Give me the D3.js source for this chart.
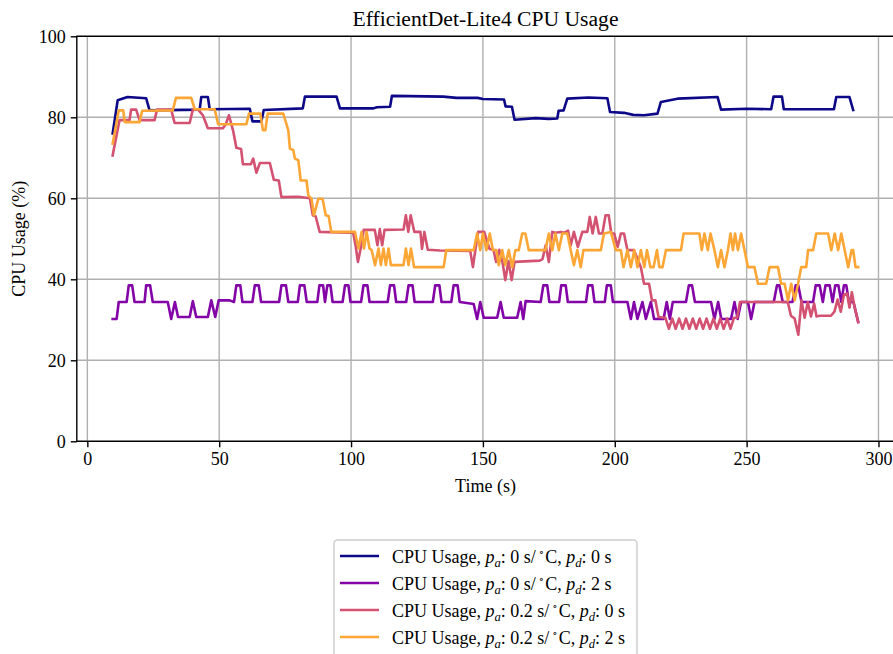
<!DOCTYPE html>
<html>
<head>
<meta charset="utf-8">
<script src="https://cdn.jsdelivr.net/npm/d3@7"></script>
<style>
  body { margin: 0; background: #fff; }
  svg { display: block; }
</style>
</head>
<body>
<svg id="chart" width="893" height="654"></svg>
<script>
// ---- data: [time (s), CPU usage (%)] ----
const usagePa0Pd0 = [[9.6,76],[11.5,84.2],[15.2,85],[22.3,84.7],[23.6,81.7],[42.6,81.9],[43.2,85],[45.7,85],[46.4,82],[61.6,82.1],[62.6,79],[66,79],[66.9,81.8],[81.7,82.2],[82.5,85.1],[94.5,85.1],[95.8,82.2],[108.5,82.2],[109.8,82.5],[114.8,82.6],[115.5,85.3],[135,85.1],[140,84.8],[148,84.8],[150,84.5],[158,84.4],[158.6,82.7],[161,82.6],[162,79.4],[170,79.8],[175,79.6],[178.2,79.7],[178.7,81.6],[180.6,81.7],[182,84.6],[190,84.9],[197.2,84.7],[198.2,81.3],[203.5,81.1],[207,80.6],[211.1,80.5],[216.2,80.9],[217.5,83.8],[223.8,84.6],[239,85],[240.3,81.9],[250,82.1],[259.3,82],[260.2,85.1],[263.4,85.1],[264.1,82],[283.1,82],[284,85],[289,85],[290.4,81.8]];

const usagePa0Pd2 = [[9.6,30.2],[11.1,30.2],[11.9,34.4],[14.9,34.4],[15.7,38.5],[17,38.5],[17.9,34.4],[21.7,34.4],[22.3,38.5],[23.8,38.5],[24.8,34.4],[30.5,34.4],[31.8,30.2],[33.2,34.4],[34.4,30.7],[38.8,30.7],[40,34.6],[41.3,30.7],[45.7,30.7],[47,34.8],[48.5,30.7],[49.8,34.8],[54,34.8],[55.6,34.4],[56.5,38.5],[58,38.5],[58.8,34.4],[62.6,34.4],[63.5,38.5],[65,38.5],[65.9,34.4],[72.7,34.4],[73.6,38.5],[75.3,38.5],[76.2,34.4],[79.8,34.4],[80.6,38.5],[82.3,38.5],[83.2,34.4],[87.2,34.4],[88,38.5],[89.4,38.5],[90.1,34.4],[91,38.5],[92.2,38.5],[93,34.4],[96.8,34.4],[97.7,38.5],[99,38.5],[99.8,34.4],[103.8,34.4],[104.7,38.5],[106.2,38.5],[107,34.4],[113.9,34.4],[114.8,38.5],[116.3,38.5],[117.1,34.4],[120.9,34.4],[121.8,38.5],[123.3,38.5],[124.1,34.4],[131,34.4],[131.9,38.5],[133.5,38.5],[134.3,34.4],[138,34.4],[138.9,38.5],[140.4,38.5],[141.2,34.4],[146.5,33.9],[147.8,30.2],[149,34.4],[150.3,30.5],[155.4,30.5],[156.7,34.4],[157.9,30.5],[163,30.5],[164.3,34.4],[165.3,30.2],[166.2,34.6],[171.9,34.4],[172.9,38.5],[174.4,38.5],[175.2,34.4],[178.9,34.4],[179.7,38.5],[181.4,38.5],[182.2,34.4],[189.1,34.4],[189.9,38.5],[191.5,38.5],[192.3,34.4],[196.2,34.4],[197,38.5],[198.5,38.5],[199.3,34.4],[204.8,34.4],[206.1,30.2],[207.3,34.4],[208.6,30.2],[210.5,34.4],[211.8,30.2],[213.7,34.4],[214.9,30.2],[218.5,30.2],[219.7,34.4],[220.9,30.2],[222,34.4],[227,34.4],[228.1,38.5],[229.3,38.5],[230.4,34.4],[236.5,34.4],[237.8,30.2],[239.2,34.4],[240.4,30.2],[244.1,30.2],[245.4,34.4],[246.6,30.2],[247.9,34.4],[250.5,34.4],[251.7,30.2],[253,34.4],[260.3,34.4],[261.5,38.5],[262.4,38.5],[263.7,34.4],[267.4,34.4],[268.6,38.5],[269.6,38.5],[270.8,34.4],[275.2,34.4],[276.2,38.5],[277.7,38.5],[278.9,34.4],[279.9,38.5],[281.5,38.5],[282.6,34.4],[283.6,38.5],[284.8,38.5],[285.9,34.4],[286.9,38.5],[287.8,38.5],[288.8,34.4],[290.5,34.4],[292.3,29.5]];

const usagePa02Pd0 = [[9.6,70.6],[12.2,79.3],[16,79.3],[16.6,81.9],[18.5,81.9],[19.8,79.3],[25.5,79.3],[26.4,81.9],[31.8,81.9],[33.1,78.6],[38.8,78.6],[40,81.9],[42,81.9],[43.8,80.5],[45.7,77.3],[51.4,77.3],[52.5,78.3],[53.7,80.5],[55.3,76.6],[56.5,72.5],[58.3,72.2],[59,68.4],[62,68.4],[62.9,69.8],[64.1,66.3],[65.4,68.7],[69.2,68.7],[70.7,64.6],[72.6,64.4],[73.6,60.3],[80,60.4],[84.4,60],[85.5,55.8],[86.6,55.5],[88.1,51.7],[99.6,51.5],[100.8,51.5],[101.7,48.4],[102.6,44.3],[103.9,48.4],[104.8,52.2],[109,52.2],[110,48.4],[110.9,52.4],[111.8,48.4],[112.7,52.2],[119.9,52.3],[120.8,55.8],[121.7,51.7],[122.6,55.8],[124,51.7],[126.3,51.7],[126.9,47.5],[127.8,51.7],[129.1,47.3],[133.8,47.1],[145.2,47],[146.2,43],[147.2,47.5],[148.2,51.7],[150.5,51.7],[152.5,47.5],[154,47.3],[155,44.3],[156.2,47.3],[157.4,44.3],[158.5,39.8],[159.7,44.5],[160.9,39.8],[162,44.3],[171.5,44.6],[172.6,45],[173.8,48.4],[175,44.3],[176.3,51.7],[177.5,51.5],[179.5,51.7],[181,51.5],[182.3,52],[183.3,48.4],[184.5,51.7],[186,48],[187.7,51.7],[189.6,51.7],[190.5,55.4],[191.6,51.3],[192.8,55.4],[194,51.3],[195.3,51.3],[196.5,55.8],[197.7,55.8],[198.7,51.3],[199.8,51.3],[201.1,48],[202.3,51.3],[203.5,51.3],[204.8,47.2],[207.3,47.2],[209.9,43],[211.1,38.9],[213,38.9],[214.1,34.8],[215.4,34.8],[216.6,30.7],[219.2,30.5],[220.5,27.8],[221.8,30.3],[223.1,27.8],[224.4,30.3],[225.7,27.8],[227,30.3],[228.3,27.8],[229.6,30.3],[230.9,27.8],[232.2,30.3],[233.5,27.8],[234.8,30.3],[236.1,27.8],[237.4,30.3],[238.7,27.8],[240,30.3],[241.3,27.8],[242.6,30.3],[243.9,27.8],[245.2,30.5],[246.4,30.5],[247.5,34.4],[265.6,34.4],[266.8,31],[268.2,30.3],[269.6,26.3],[270.8,34.8],[272,30.5],[273.2,34.4],[274.4,30.8],[275.6,34],[276.5,30.8],[277.7,31],[282,31],[283.3,32],[284.5,35],[285.7,32],[286.9,36.2],[288.1,36.5],[289,33],[289.9,36.8],[291,33],[292.3,29.4]];

const usagePa02Pd2 = [[9.6,73.5],[11.9,81.7],[13.6,81.7],[14.2,78.8],[19.8,78.8],[20.8,81.6],[32.4,81.7],[33.6,84.8],[39.4,84.8],[40.7,82],[48.3,82],[49.6,78.3],[60.3,78.3],[61.3,80.9],[65.6,80.9],[66.6,76.8],[67.5,76.8],[68.4,80.9],[74.3,80.9],[76.2,76.8],[76.8,72.3],[78.1,71.9],[78.7,69.8],[80,69.4],[80.9,64.4],[83.1,64.4],[83.8,60.7],[85,59.9],[85.9,55.8],[87.6,59.9],[89.2,59.9],[90.4,55.8],[91.5,55.6],[92.5,51.7],[101.5,51.7],[102.8,47.6],[104,51.7],[104.9,47.6],[105.9,51.7],[107,47.6],[107.8,47.2],[109.1,43.5],[110.4,47.6],[111.3,43.5],[112.3,47.6],[113.2,43.5],[114.2,47.6],[115.1,43.5],[116.1,43.5],[119.9,43.5],[120.8,47.6],[121.8,43.5],[122.7,47.6],[123.9,43],[135.1,43],[136.1,47.2],[146.5,47.2],[147.8,51.3],[149,47.2],[150,51.3],[151.3,47.2],[152.6,51.3],[153.8,47.2],[155.1,47.2],[156,43.5],[157.3,47.2],[158.5,43.5],[159.8,47.2],[161.1,43],[162.3,47.2],[163.6,47.2],[164.9,51.3],[166.1,51.3],[167.4,47.2],[173.7,47.2],[175,51.3],[176.3,47.2],[177.5,51.3],[178.8,47.2],[180.1,51.3],[182,51.3],[183.3,47.2],[184.5,43.5],[185.8,47.2],[187.1,43],[188.1,47.2],[194.7,47.2],[195.9,51.3],[198.5,51.7],[200.4,47.2],[202.3,47.2],[203.3,43],[204.8,47.2],[206.1,43],[207.4,47.2],[208.6,43],[209.9,47.2],[211.2,43],[212.2,47.2],[213.5,43],[214.7,43],[216,47.2],[216.9,43],[218.1,43],[219.4,47.2],[225.1,47.2],[226.1,51.3],[232.1,51.3],[233,47.2],[234,51.3],[235.3,47.2],[236.3,51.3],[237.8,47.2],[239.1,43],[240.3,47.2],[241.6,43],[242.9,47.2],[243.9,51.3],[244.8,47.2],[245.6,51.3],[246.7,47.2],[247.9,51.3],[249.2,47.2],[250.5,43],[253,43],[254.3,38.9],[257.4,38.9],[258.7,43],[261.9,43],[263.1,38.9],[264.4,38.9],[265.7,34.8],[266.9,38.9],[268.2,34.8],[269.5,38.9],[270.7,43],[272.6,43],[273.3,47.2],[275.2,47.2],[276.4,51.3],[280.9,51.3],[282.1,47.2],[283.4,51.3],[284.7,47.2],[285.9,51.3],[287.2,47.2],[288.5,43],[289.8,47.2],[290.4,47.2],[291.3,43],[292.3,43]];

// legend parameters for each run
const paValues = ["0", "0", "0.2", "0.2"];
const pdValues = ["0", "2", "0", "2"];
const seriesColors = ["#0d0887", "#8405a7", "#d35171", "#fca636"];

// axes
const xLimits = [-4, 306];
const yLimits = [0, 100];
const xTicks = [0, 50, 100, 150, 200, 250, 300];
const yTicks = [0, 20, 40, 60, 80, 100];

const titleText = "EfficientDet-Lite4 CPU Usage";
const xLabelText = "Time (s)";
const yLabelText = "CPU Usage (%)";

// ---- drawing ----
const allSeries = [usagePa0Pd0, usagePa0Pd2, usagePa02Pd0, usagePa02Pd2];
const FONT = "'Liberation Serif', 'Times New Roman', 'DejaVu Serif', serif";
const svg = d3.select("#chart");
const box = { left: 76.8, right: 894.3, top: 36.3, bottom: 441.3 };

const x = d3.scaleLinear().domain(xLimits).range([box.left, box.right]);
const y = d3.scaleLinear().domain(yLimits).range([box.bottom, box.top]);

svg.append("rect").attr("width", 893).attr("height", 654).attr("fill", "#fff");

// grid
const grid = svg.append("g").attr("stroke", "#b0b0b0").attr("stroke-width", 1.4);
grid.selectAll("line.v").data(xTicks).join("line")
  .attr("x1", d => x(d)).attr("x2", d => x(d))
  .attr("y1", box.top).attr("y2", box.bottom);
grid.selectAll("line.h").data(yTicks).join("line")
  .attr("x1", box.left).attr("x2", box.right)
  .attr("y1", d => y(d)).attr("y2", d => y(d));

// series lines
const line = d3.line().x(d => x(d[0])).y(d => y(d[1]));
svg.append("g").selectAll("path").data(allSeries).join("path")
  .attr("d", line)
  .attr("fill", "none")
  .attr("stroke", (d, i) => seriesColors[i])
  .attr("stroke-width", 2.6)
  .attr("stroke-linejoin", "round")
  .attr("stroke-linecap", "square");

// spines
svg.append("rect")
  .attr("x", box.left).attr("y", box.top)
  .attr("width", box.right - box.left).attr("height", box.bottom - box.top)
  .attr("fill", "none").attr("stroke", "#000").attr("stroke-width", 1.4);

// axes
const xAxis = svg.append("g").attr("transform", `translate(0,${box.bottom})`)
  .call(d3.axisBottom(x).tickValues(xTicks).tickSize(6).tickPadding(5).tickFormat(d3.format("d")));
const yAxis = svg.append("g").attr("transform", `translate(${box.left},0)`)
  .call(d3.axisLeft(y).tickValues(yTicks).tickSize(6).tickPadding(5).tickFormat(d3.format("d")));
[xAxis, yAxis].forEach(a => {
  a.select(".domain").remove();
  a.selectAll(".tick line").attr("stroke", "#000").attr("stroke-width", 1.4);
  a.selectAll(".tick text").attr("fill", "#000")
    .style("font-family", FONT).style("font-size", "18px");
});

// title and axis labels
svg.append("text").attr("x", (box.left + box.right) / 2).attr("y", 26)
  .attr("text-anchor", "middle").style("font-family", FONT).style("font-size", "21.6px")
  .text(titleText);
svg.append("text").attr("x", (box.left + box.right) / 2).attr("y", 492)
  .attr("text-anchor", "middle").style("font-family", FONT).style("font-size", "18px")
  .text(xLabelText);
svg.append("text")
  .attr("transform", `translate(25,${(box.top + box.bottom) / 2}) rotate(-90)`)
  .attr("text-anchor", "middle").style("font-family", FONT).style("font-size", "18px")
  .text(yLabelText);

// legend
const legend = svg.append("g");
legend.append("rect").attr("x", 334).attr("y", 540).attr("width", 303).attr("height", 130)
  .attr("rx", 3.5).attr("fill", "#fff").attr("fill-opacity", 0.8)
  .attr("stroke", "#cccccc").attr("stroke-width", 1.4);
const rowY = i => 556 + i * 27;
legend.selectAll("line").data(seriesColors).join("line")
  .attr("x1", 340).attr("x2", 379)
  .attr("y1", (d, i) => rowY(i)).attr("y2", (d, i) => rowY(i))
  .attr("stroke", d => d).attr("stroke-width", 2.6);

paValues.forEach((pa, i) => {
  const t = legend.append("text").attr("x", 392).attr("y", rowY(i) + 6.5)
    .style("font-family", FONT).style("font-size", "18px");
  t.append("tspan").text("CPU Usage, ");
  t.append("tspan").style("font-style", "italic").text("p");
  t.append("tspan").style("font-style", "italic").style("font-size", "12.6px").attr("dy", 4).text("a");
  t.append("tspan").attr("dy", -4).text(`: ${pa} s/`);
  t.append("tspan").style("font-size", "11px").attr("dx", 3).attr("dy", -7).text("\u2218");
  t.append("tspan").attr("dx", 1).attr("dy", 7).text("C, ");
  t.append("tspan").style("font-style", "italic").text("p");
  t.append("tspan").style("font-style", "italic").style("font-size", "12.6px").attr("dy", 4).text("d");
  t.append("tspan").attr("dy", -4).text(`: ${pdValues[i]} s`);
});
</script>
</body>
</html>
